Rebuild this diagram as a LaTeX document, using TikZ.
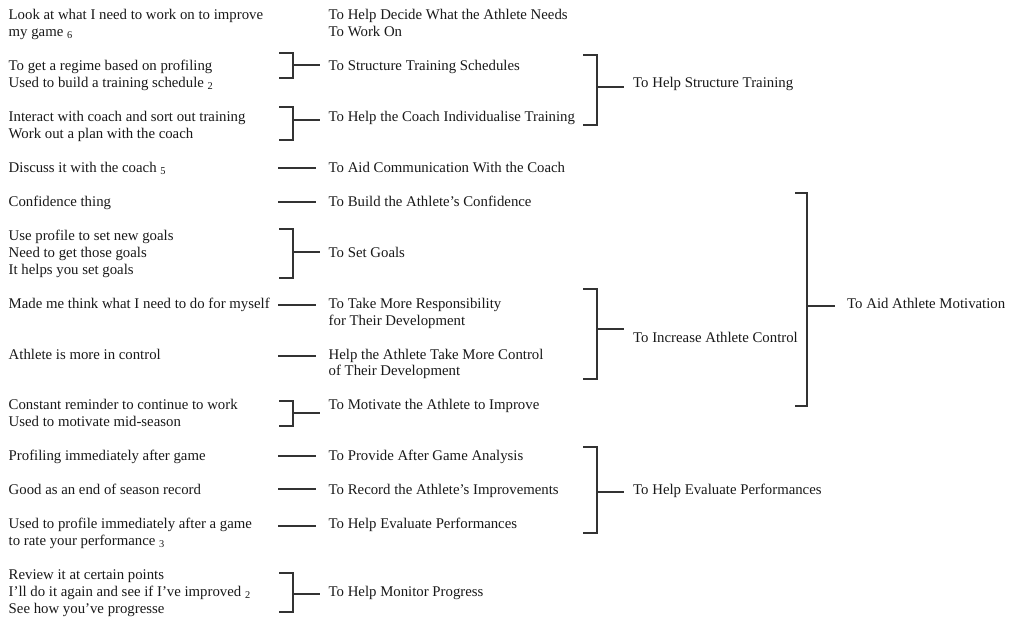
\documentclass[tikz,border=0pt]{standalone}
\usepackage{fontspec}
\setmainfont{Liberation Serif}
\newcommand\BL[1]{15+16.97*(#1)+4.6}
\begin{document}
\begin{tikzpicture}[x=1pt,y=-1pt,
  txt/.style={anchor=base west,inner sep=0pt,align=left,text=black!90,
    font=\fontsize{14.8}{16.97}\selectfont},
  conn/.style={draw=black!80,line width=1.3pt}]
\useasboundingbox[fill=white] (0,0) rectangle (1011,618);
% left column (base = baseline of the last line)
\node[txt] (a1) at (8.5,{\BL{1}}) {Look at what I need to work on to improve\\my game \textsubscript{6}};
\node[txt] (a2) at (8.5,{\BL{4}}) {To get a regime based on profiling\\Used to build a training schedule \textsubscript{2}};
\node[txt] (a3) at (8.5,{\BL{7}}) {Interact with coach and sort out training\\Work out a plan with the coach};
\node[txt] (a4) at (8.5,{\BL{9}}) {Discuss it with the coach \textsubscript{5}};
\node[txt] (a5) at (8.5,{\BL{11}}) {Confidence thing};
\node[txt] (a6) at (8.5,{\BL{15}}) {Use profile to set new goals\\Need to get those goals\\It helps you set goals};
\node[txt] (a7) at (8.5,{\BL{17}}) {Made me think what I need to do for myself};
\node[txt] (a8) at (8.5,{\BL{20}}) {Athlete is more in control};
\node[txt] (a9) at (8.5,{\BL{24}}) {Constant reminder to continue to work\\Used to motivate mid-season};
\node[txt] (a10) at (8.5,{\BL{26}}) {Profiling immediately after game};
\node[txt] (a11) at (8.5,{\BL{28}}) {Good as an end of season record};
\node[txt] (a12) at (8.5,{\BL{31}}) {Used to profile immediately after a game\\to rate your performance \textsubscript{3}};
\node[txt] (a13) at (8.5,{\BL{35}}) {Review it at certain points\\I’ll do it again and see if I’ve improved \textsubscript{2}\\See how you’ve progresse};
% middle column
\node[txt] (m1) at (328.5,{\BL{1}}) {To Help Decide What the Athlete Needs\\To Work On};
\node[txt] (m2) at (328.5,{\BL{3}}) {To Structure Training Schedules};
\node[txt] (m3) at (328.5,{\BL{6}}) {To Help the Coach Individualise Training};
\node[txt] (m4) at (328.5,{\BL{9}}) {To Aid Communication With the Coach};
\node[txt] (m5) at (328.5,{\BL{11}}) {To Build the Athlete’s Confidence};
\node[txt] (m6) at (328.5,{\BL{14}}) {To Set Goals};
\node[txt] (m7) at (328.5,{\BL{18}}) {To Take More Responsibility\\for Their Development};
\node[txt] (m8) at (328.5,{\BL{21}}) {Help the Athlete Take More Control\\of Their Development};
\node[txt] (m9) at (328.5,{\BL{23}}) {To Motivate the Athlete to Improve};
\node[txt] (m10) at (328.5,{\BL{26}}) {To Provide After Game Analysis};
\node[txt] (m11) at (328.5,{\BL{28}}) {To Record the Athlete’s Improvements};
\node[txt] (m12) at (328.5,{\BL{30}}) {To Help Evaluate Performances};
\node[txt] (m13) at (328.5,{\BL{34}}) {To Help Monitor Progress};
% right columns
\node[txt] (r1) at (633,{\BL{4}}) {To Help Structure Training};
\node[txt] (r2) at (633,{\BL{19}}) {To Increase Athlete Control};
\node[txt] (r3) at (633,{\BL{28}}) {To Help Evaluate Performances};
\node[txt] (r4) at (847,{\BL{17}}) {To Aid Athlete Motivation};
% single connectors
\foreach \yy in {168,202,305,356,456,489,526}
  \draw[conn] (278,\yy) -- (316,\yy);
% inner brackets
\foreach \t/\b/\m in {53/78/65, 107/140/120, 229/278/252, 401/426/413, 573/612/594}{
  \draw[conn] (279,\t) -- (293,\t) -- (293,\b) -- (279,\b);
  \draw[conn] (293,\m) -- (320,\m);
}
% outer brackets
\foreach \t/\b/\m in {55/125/87, 289/379/329, 447/533/492}{
  \draw[conn] (583,\t) -- (597,\t) -- (597,\b) -- (583,\b);
  \draw[conn] (597,\m) -- (624,\m);
}
\draw[conn] (795,193) -- (807,193) -- (807,406) -- (795,406);
\draw[conn] (807,306) -- (835,306);
\end{tikzpicture}
\end{document}
